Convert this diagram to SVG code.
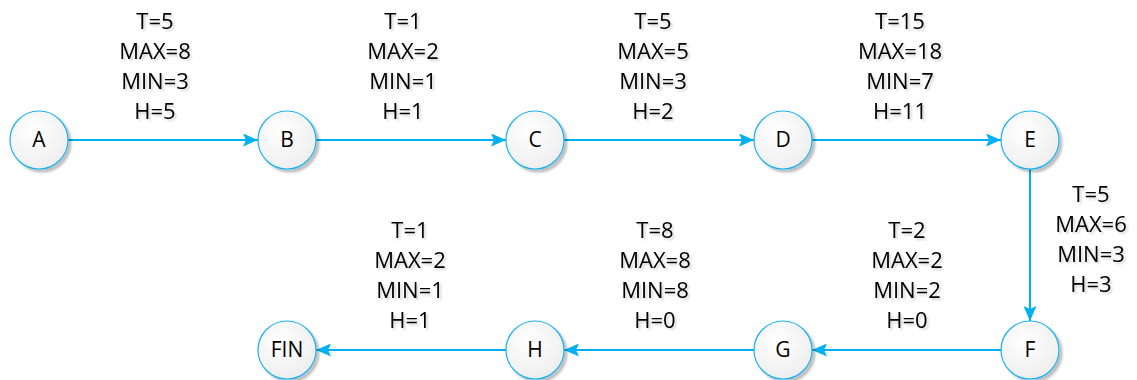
<svg xmlns="http://www.w3.org/2000/svg" width="1137" height="380" viewBox="0 0 1137 380">
  <defs>
    <radialGradient id="nodeFill" cx="0.4" cy="0.35" r="0.75">
      <stop offset="0" stop-color="#ffffff"/>
      <stop offset="1" stop-color="#ececec"/>
    </radialGradient>
    <filter id="shadow" x="-30%" y="-30%" width="170%" height="170%">
      <feGaussianBlur in="SourceAlpha" stdDeviation="1.2"/>
      <feOffset dx="3" dy="3" result="b"/>
      <feComponentTransfer><feFuncA type="linear" slope="0.25"/></feComponentTransfer>
      <feMerge><feMergeNode/><feMergeNode in="SourceGraphic"/></feMerge>
    </filter>
    <filter id="textShadow" x="-10%" y="-20%" width="130%" height="150%">
      <feGaussianBlur in="SourceAlpha" stdDeviation="0.8"/>
      <feOffset dx="2" dy="2" result="b"/>
      <feComponentTransfer><feFuncA type="linear" slope="0.18"/></feComponentTransfer>
      <feMerge><feMergeNode/><feMergeNode in="SourceGraphic"/></feMerge>
    </filter>
    <marker id="arrow" viewBox="0 0 15 13" refX="15" refY="6.5" markerWidth="15" markerHeight="13" markerUnits="userSpaceOnUse" orient="auto">
      <path d="M0,0 L15,6.5 L0,13 L3,6.5 z" fill="#00b0f0"/>
    </marker>
  </defs>
  <style>
    .node circle { fill: url(#nodeFill); stroke: #1ab2ee; stroke-width: 1.2; filter: url(#shadow); }
    .node text { font-family: "Open Sans", "Liberation Sans", sans-serif; font-size: 21px; fill: #000; text-anchor: middle; }
    .edge { stroke: #00b0f0; stroke-width: 2; fill: none; marker-end: url(#arrow); }
    .lbl { font-family: "Open Sans", "Liberation Sans", sans-serif; font-size: 22px; fill: #000; text-anchor: middle; filter: url(#textShadow); }
  </style>

  <g id="connectors">
    <line class="edge" x1="68" y1="140" x2="258" y2="140"/>
    <line class="edge" x1="316" y1="140" x2="506" y2="140"/>
    <line class="edge" x1="564" y1="140" x2="754" y2="140"/>
    <line class="edge" x1="812" y1="140" x2="1001" y2="140"/>
    <line class="edge" x1="1030" y1="169" x2="1030" y2="321"/>
    <line class="edge" x1="1001" y1="350" x2="812" y2="350"/>
    <line class="edge" x1="754" y1="350" x2="564" y2="350"/>
    <line class="edge" x1="506" y1="350" x2="316" y2="350"/>
  </g>

  <g id="labels">
    <text class="lbl"><tspan x="155" y="29">T=5</tspan><tspan x="155" y="59">MAX=8</tspan><tspan x="155" y="89">MIN=3</tspan><tspan x="155" y="119">H=5</tspan></text>
    <text class="lbl"><tspan x="403" y="29">T=1</tspan><tspan x="403" y="59">MAX=2</tspan><tspan x="403" y="89">MIN=1</tspan><tspan x="403" y="119">H=1</tspan></text>
    <text class="lbl"><tspan x="653" y="29">T=5</tspan><tspan x="653" y="59">MAX=5</tspan><tspan x="653" y="89">MIN=3</tspan><tspan x="653" y="119">H=2</tspan></text>
    <text class="lbl"><tspan x="900" y="29">T=15</tspan><tspan x="900" y="59">MAX=18</tspan><tspan x="900" y="89">MIN=7</tspan><tspan x="900" y="119">H=11</tspan></text>
    <text class="lbl"><tspan x="1091" y="202">T=5</tspan><tspan x="1091" y="232">MAX=6</tspan><tspan x="1091" y="262">MIN=3</tspan><tspan x="1091" y="292">H=3</tspan></text>
    <text class="lbl"><tspan x="907" y="238">T=2</tspan><tspan x="907" y="268">MAX=2</tspan><tspan x="907" y="298">MIN=2</tspan><tspan x="907" y="328">H=0</tspan></text>
    <text class="lbl"><tspan x="655" y="238">T=8</tspan><tspan x="655" y="268">MAX=8</tspan><tspan x="655" y="298">MIN=8</tspan><tspan x="655" y="328">H=0</tspan></text>
    <text class="lbl"><tspan x="410" y="238">T=1</tspan><tspan x="410" y="268">MAX=2</tspan><tspan x="410" y="298">MIN=1</tspan><tspan x="410" y="328">H=1</tspan></text>
  </g>

  <g id="node-A" class="node"><circle cx="39" cy="140" r="29"/><text x="39" y="147">A</text></g>
  <g id="node-B" class="node"><circle cx="287" cy="140" r="29"/><text x="287" y="147">B</text></g>
  <g id="node-C" class="node"><circle cx="535" cy="140" r="29"/><text x="535" y="147">C</text></g>
  <g id="node-D" class="node"><circle cx="783" cy="140" r="29"/><text x="783" y="147">D</text></g>
  <g id="node-E" class="node"><circle cx="1030" cy="140" r="29"/><text x="1030" y="147">E</text></g>
  <g id="node-F" class="node"><circle cx="1030" cy="350" r="29"/><text x="1030" y="357">F</text></g>
  <g id="node-G" class="node"><circle cx="783" cy="350" r="29"/><text x="783" y="357">G</text></g>
  <g id="node-H" class="node"><circle cx="535" cy="350" r="29"/><text x="535" y="357">H</text></g>
  <g id="node-FIN" class="node"><circle cx="287" cy="350" r="29"/><text x="287" y="357">FIN</text></g>
</svg>
